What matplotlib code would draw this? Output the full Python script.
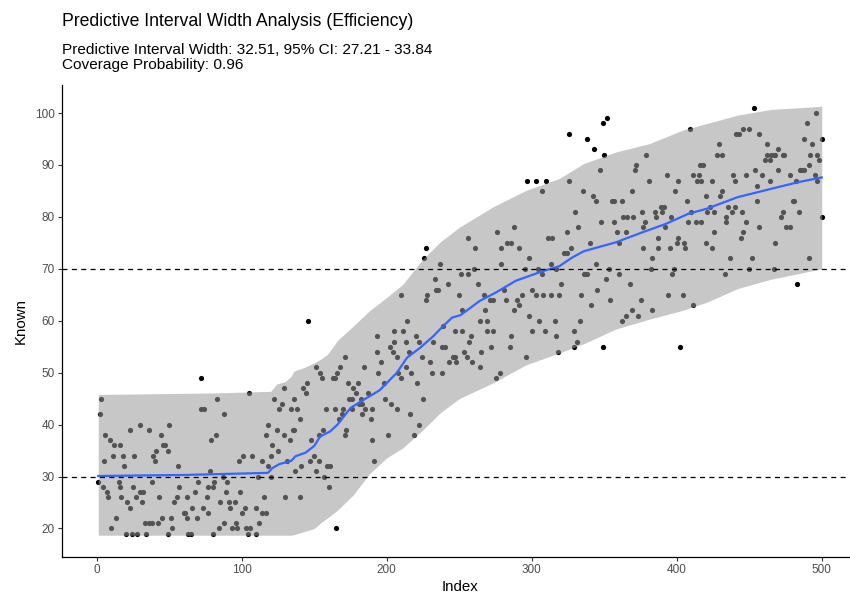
import matplotlib

matplotlib.use("Agg")
import matplotlib.pyplot as plt
import numpy as np

plt.rcParams["font.family"] = ["Liberation Sans", "DejaVu Sans"]

# observed values (index, known), grouped by index range
obs_001_080 = [
    (72, 49), (3, 45), (2, 42), (72, 43), (74, 43), (30, 40), (50, 40), (23, 39),
    (36, 39), (6, 38), (44, 38), (9, 37), (12, 36), (16, 36), (46, 36), (47, 36),
    (41, 35), (49, 35), (11, 34), (18, 34), (26, 34), (39, 34), (5, 33), (40, 33),
    (19, 32), (56, 32), (79, 37), (78, 31), (1, 29), (4, 28), (15, 29), (38, 29),
    (70, 29), (7, 27), (16, 28), (25, 28), (57, 28), (77, 28), (8, 26), (17, 26),
    (27, 26), (30, 27), (32, 27), (43, 26), (55, 26), (62, 26), (68, 27), (76, 26),
    (21, 25), (31, 25), (53, 25), (23, 24), (60, 23), (61, 23), (66, 24), (73, 24),
    (77, 23), (13, 22), (45, 22), (51, 22), (62, 22), (69, 22), (33, 21), (36, 21),
    (38, 21), (42, 21), (10, 20), (52, 20), (20, 19), (24, 19), (28, 19), (34, 19),
    (49, 19), (63, 19), (65, 19), (80, 19),
]
obs_081_130 = [
    (83, 45), (105, 46), (88, 42), (82, 38), (98, 33), (101, 34), (107, 34),
    (114, 33), (120, 34), (121, 36), (125, 35), (118, 32), (111, 30), (120, 30),
    (87, 30), (81, 29), (90, 29), (80, 28), (89, 27), (99, 27), (115, 26), (130, 26),
    (85, 25), (91, 25), (95, 25), (92, 24), (102, 24), (110, 24), (100, 23),
    (114, 23), (117, 23), (88, 21), (96, 21), (112, 21), (84, 20), (93, 20),
    (97, 20), (103, 20), (106, 20), (104, 19), (110, 19), (122, 45), (128, 44),
    (126, 43), (118, 40), (124, 39), (117, 38), (129, 38), (129, 47),
]
obs_131_166 = [
    (146, 60), (151, 51), (154, 50), (155, 49), (163, 49), (164, 49), (166, 50),
    (145, 48), (142, 47), (144, 46), (136, 45), (138, 43), (134, 43), (158, 43),
    (164, 43), (140, 41), (135, 39), (136, 39), (156, 39), (153, 38), (148, 37),
    (133, 37), (150, 34), (147, 33), (153, 33), (131, 33), (141, 32), (159, 32),
    (161, 32), (137, 31), (151, 31), (157, 30), (160, 28), (140, 26), (165, 20),
]
obs_167_250 = [
    (227, 74), (226, 72), (237, 71), (233, 68), (242, 67), (234, 66), (235, 66),
    (228, 65), (227, 64), (210, 65), (214, 60), (193, 57), (205, 58), (211, 58),
    (239, 59), (247, 58), (202, 55), (205, 56), (213, 56), (220, 57), (222, 56),
    (232, 56), (238, 55), (240, 55), (193, 54), (204, 54), (207, 53), (215, 54),
    (224, 53), (246, 53), (247, 53), (243, 52), (248, 52), (171, 53), (168, 51),
    (184, 51), (196, 52), (213, 51), (230, 52), (194, 50), (208, 50), (217, 50),
    (231, 50), (238, 50), (210, 49), (173, 48), (180, 48), (198, 48), (221, 48),
    (177, 47), (179, 46), (187, 46), (174, 45), (176, 45), (182, 45), (225, 45),
    (181, 44), (183, 44), (199, 45), (203, 44), (170, 43), (176, 43), (185, 43),
    (190, 43), (207, 43), (183, 42), (169, 42), (189, 41), (216, 42), (167, 41),
    (172, 39), (171, 38), (222, 40), (201, 38), (219, 38), (190, 37), (191, 33),
]
obs_251_336 = [
    (326, 96), (297, 87), (303, 87), (310, 87), (326, 87), (307, 85), (335, 85),
    (330, 81), (332, 78), (324, 77), (288, 78), (276, 77), (256, 76), (311, 76),
    (314, 76), (283, 75), (286, 75), (261, 74), (279, 74), (291, 74), (327, 74),
    (322, 73), (324, 73), (298, 72), (279, 71), (313, 71), (304, 70), (295, 70),
    (260, 70), (317, 70), (336, 69), (251, 69), (256, 69), (307, 69), (263, 67),
    (320, 67), (281, 66), (300, 66), (250, 65), (267, 65), (293, 65), (303, 65),
    (308, 65), (313, 65), (319, 65), (334, 65), (271, 64), (273, 64), (282, 64),
    (290, 64), (291, 63), (288, 62), (252, 62), (268, 62), (298, 61), (264, 60),
    (269, 60), (305, 60), (316, 60), (333, 60), (252, 58), (269, 58), (273, 58),
    (300, 58), (309, 58), (329, 58), (258, 57), (286, 57), (317, 57), (257, 56),
    (272, 55), (285, 55), (329, 55), (331, 56), (253, 54), (265, 54), (318, 54),
    (255, 53), (259, 52), (296, 53), (264, 51), (278, 50), (275, 49),
]
obs_337_420 = [
    (352, 99), (349, 98), (338, 95), (343, 93), (350, 92), (409, 97), (379, 92),
    (347, 89), (371, 89), (372, 90), (416, 90), (418, 90), (393, 88), (411, 88),
    (415, 88), (381, 87), (401, 87), (414, 87), (417, 87), (369, 85), (399, 85),
    (420, 84), (342, 84), (344, 83), (355, 83), (357, 83), (362, 83), (407, 83),
    (389, 82), (391, 82), (376, 81), (385, 81), (390, 81), (410, 81), (363, 80),
    (366, 80), (370, 80), (386, 80), (396, 80), (348, 79), (357, 79), (378, 79),
    (408, 79), (413, 79), (417, 79), (377, 78), (392, 78), (359, 77), (365, 77),
    (387, 76), (401, 76), (340, 75), (360, 75), (400, 75), (405, 75), (420, 75),
    (377, 74), (387, 74), (395, 74), (406, 74), (383, 72), (344, 71), (353, 70),
    (382, 70), (398, 70), (337, 69), (338, 69), (360, 69), (397, 69), (351, 68),
    (368, 67), (345, 66), (394, 65), (404, 65), (354, 64), (375, 64), (341, 63),
    (411, 63), (383, 62), (369, 62), (365, 61), (373, 61), (362, 60), (349, 55),
    (402, 55),
]
obs_421_500 = [
    (453, 101), (496, 100), (490, 98), (446, 97), (450, 97), (441, 96), (443, 96),
    (457, 96), (488, 95), (500, 95), (429, 94), (462, 94), (493, 94), (470, 93),
    (428, 92), (431, 92), (462, 92), (465, 92), (467, 92), (468, 92), (473, 92),
    (474, 92), (492, 92), (497, 92), (461, 91), (464, 91), (498, 91), (491, 90),
    (454, 89), (470, 89), (485, 89), (486, 89), (488, 89), (439, 88), (448, 88),
    (459, 88), (478, 88), (495, 88), (424, 87), (440, 87), (464, 87), (482, 87),
    (497, 87), (455, 86), (431, 85), (430, 84), (455, 83), (480, 83), (481, 83),
    (423, 82), (435, 82), (440, 82), (421, 81), (426, 81), (438, 81), (445, 81),
    (473, 81), (484, 81), (434, 80), (472, 80), (500, 80), (434, 79), (448, 79),
    (457, 78), (475, 78), (478, 78), (426, 77), (446, 77), (444, 76), (468, 75),
    (424, 74), (437, 72), (452, 72), (491, 72), (450, 70), (467, 70), (433, 69),
    (483, 67),
]

# prediction interval bounds
band_idx = [1, 82, 120, 124, 130, 134, 136, 143, 150, 155, 159, 166, 177, 188,
            200, 211, 225, 237, 250, 273, 296, 319, 336, 358, 381, 404, 421,
            442, 465, 500]
band_lower = [18.7, 18.7, 18.7, 18.7, 18.7, 18.7, 18.8, 19.4, 20.0, 21.2, 22.0,
              23.5, 26.5, 30.5, 33.6, 35.5, 39.0, 42.3, 45.0, 48.0, 51.5, 53.8,
              55.6, 58.4, 60.3, 62.0, 63.6, 66.2, 68.0, 70.0]
band_upper = [45.8, 46.1, 46.4, 47.8, 48.3, 49.3, 50.3, 51.0, 51.9, 52.7, 53.5,
              56.2, 59.0, 61.9, 64.5, 67.0, 71.9, 75.2, 78.0, 81.9, 85.1, 87.4,
              90.3, 92.5, 94.1, 96.7, 98.0, 99.6, 100.7, 101.3]

# fitted curve
fit_idx = [1, 60, 118, 121, 126, 134, 137, 144, 150, 154, 161, 166, 175, 186,
           195, 207, 214, 223, 232, 239, 245, 251, 264, 275, 289, 307, 319, 328,
           336, 358, 376, 392, 408, 421, 442, 465, 484, 500]
fit_val = [30.1, 30.3, 30.7, 31.6, 32.4, 33.0, 33.9, 34.6, 35.9, 37.7, 38.7, 40.0,
           43.2, 45.1, 46.6, 50.0, 52.9, 54.8, 57.0, 59.0, 60.6, 61.1, 63.8, 65.4,
           67.7, 69.5, 70.5, 72.2, 73.4, 75.1, 77.0, 78.6, 80.6, 81.6, 83.8, 85.4,
           86.7, 87.6]

ref_lines = [30, 70]

title = "Predictive Interval Width Analysis (Efficiency)"
subtitle = ("Predictive Interval Width: 32.51, 95% CI: 27.21 - 33.84\n"
            "Coverage Probability: 0.96")

obs = np.array(obs_001_080 + obs_081_130 + obs_131_166 + obs_167_250
               + obs_251_336 + obs_337_420 + obs_421_500)

W, H = 850, 602
fig = plt.figure(figsize=(W / 100, H / 100), dpi=100)
ax = fig.add_axes([62 / W, 45 / H, (858 - 62) / W, (557 - 85) / H])

ax.scatter(obs[:, 0], obs[:, 1], s=14, color="black", linewidths=0, zorder=2)
ax.fill_between(band_idx, band_lower, band_upper, color="#999999", alpha=0.55,
                linewidth=0, zorder=3)
ax.plot(fit_idx, fit_val, color="#3366FF", lw=1.6, zorder=4)
for y in ref_lines:
    ax.axhline(y, color="black", lw=0.9, dashes=(4, 3.5), zorder=5)

ax.set_xlim(-24, 525)
ax.set_ylim(14.5, 105.4)
ax.set_xticks([0, 100, 200, 300, 400, 500])
ax.set_yticks([20, 30, 40, 50, 60, 70, 80, 90, 100])
ax.tick_params(length=3, width=0.8, color="#333333", labelcolor="#4D4D4D",
               labelsize=8.5, pad=2)
for side in ("top", "right"):
    ax.spines[side].set_visible(False)
for side in ("left", "bottom"):
    ax.spines[side].set_linewidth(0.9)
ax.set_xlabel("Index", fontsize=10.8, labelpad=3)
ax.set_ylabel("Known", fontsize=10.8, labelpad=5)

fig.text(62 / W, 1 - 26 / H, title, fontsize=12.7, va="baseline")
fig.text(62 / W, 1 - 69 / H, subtitle, fontsize=11.1, va="baseline",
         linespacing=1.1)

fig.savefig("out.png", dpi=100)
